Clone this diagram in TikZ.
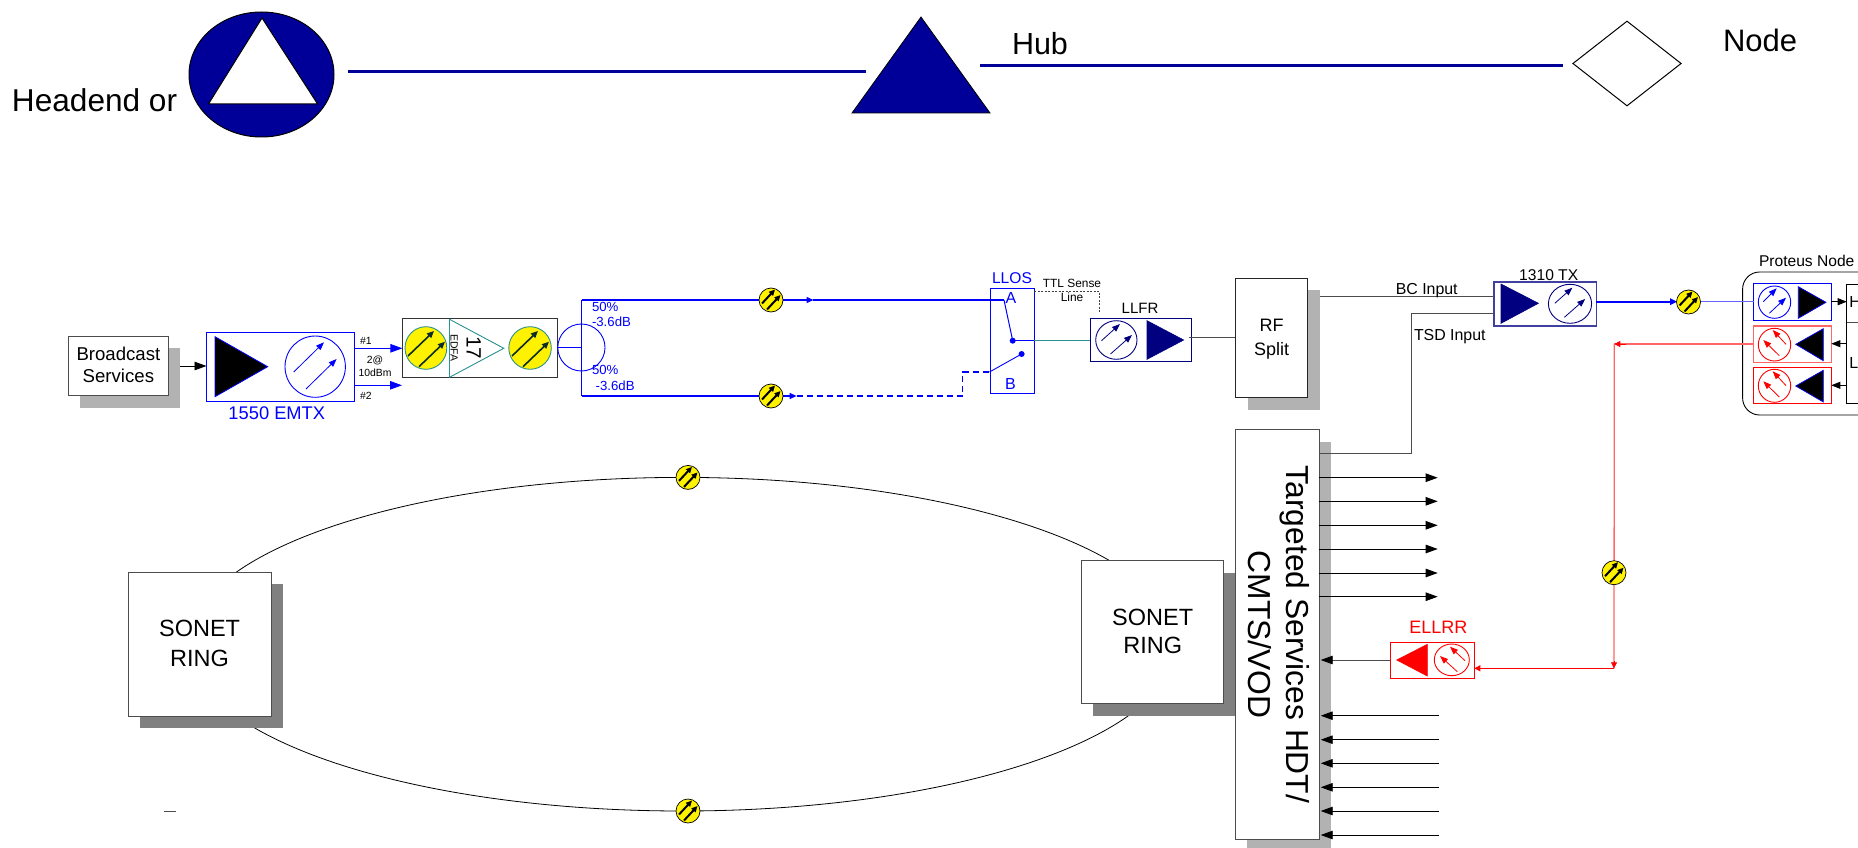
\documentclass[tikz,border=0pt]{standalone}
\usepackage{fontspec}
\setmainfont{Liberation Sans}
\usetikzlibrary{arrows.meta,shapes.geometric,calc}
\definecolor{hubnavy}{HTML}{000099}
\definecolor{optnavy}{HTML}{000080}
\definecolor{tealc}{HTML}{2A9090}
\definecolor{lred}{HTML}{FF6666}
\definecolor{lblue}{HTML}{6666FF}
\definecolor{lineg}{HTML}{4D4D4D}
\definecolor{shadowl}{HTML}{B2B2B2}
\definecolor{shadowd}{HTML}{808080}
\tikzset{
 fs/.style={font=\fontsize{#1}{#1}\selectfont},
 lbl/.style={inner sep=0pt,outer sep=0pt,anchor=base},
 lblw/.style={inner sep=0pt,outer sep=0pt,anchor=base west},
 wirew/.style={line width=0.9pt},
 bigtip/.style={-{Triangle[length=12pt,width=8.5pt]}},
 bigtipk/.style={-{Triangle[length=12pt,width=8.5pt,color=black]}},
 midtip/.style={-{Triangle[length=9pt,width=7pt]}},
 smalltip/.style={-{Triangle[length=7pt,width=6pt]}},
 oarrow/.style={line width=0.8pt,-{Triangle[length=8pt,width=6pt]}},
 ycross/.style={shape=ellipse,draw=black,fill=yellow,line width=0.7pt,minimum width=24pt,minimum height=24pt,inner sep=0pt,outer sep=0pt},
 opticc/.style={shape=ellipse,line width=0.9pt,inner sep=0pt,outer sep=0pt},
 sqbox/.style={shape=rectangle,inner sep=0pt,outer sep=0pt,line width=1pt,fill=white},
}
% rectangle node from corners
\newcommand{\pbox}[6]{\node[sqbox,#6,minimum width={(#4-#2)*1pt},minimum height={(#5-#3)*1pt}] (#1) at ({(#2+#4)/2},{(#3+#5)/2}) {};}
% ellipse node from corners
\newcommand{\pell}[6]{\node[opticc,#6,minimum width={(#4-#2)*1pt},minimum height={(#5-#3)*1pt}] (#1) at ({(#2+#4)/2},{(#3+#5)/2}) {};}
% yellow crossing
\newcommand{\yc}[3]{\node[ycross] (#1) at (#2,#3) {};
 \draw[line width=2pt,black,-{Triangle[length=6pt,width=5.5pt]}] ($(#2,#3)+(-9,3.5)$) -- ($(#2,#3)+(4,-10.5)$);
 \draw[line width=2pt,black,-{Triangle[length=6pt,width=5.5pt]}] ($(#2,#3)+(-4,9.5)$) -- ($(#2,#3)+(9.5,-5)$);}
\begin{document}
\begin{tikzpicture}[x=1pt,y=-1pt]
\useasboundingbox (0,0) rectangle (1858,848);

% ---------- legend ----------
\node[lblw,fs=31.6] (headend) at (12,112) {Headend or};
\pell{hecircle}{189}{12}{334}{137}{draw=black,fill=hubnavy,line width=1pt}
\draw[fill=white,draw=black,line width=1pt] (262,18) -- (317.6,104) -- (208.5,104) -- cycle;
\coordinate (la) at (348,72); \coordinate (lb) at (866,72);
\draw[hubnavy,line width=3pt] (la) -- (lb);
\draw[fill=hubnavy,draw=black,line width=0.8pt] (921,17) -- (990,113) -- (852,113) -- cycle;
\coordinate (lc) at (980,66); \coordinate (ld) at (1563,66);
\draw[hubnavy,line width=3pt] (lc) -- (ld);
\node[lblw,fs=30.5] (hub) at (1012,55) {Hub};
\node[shape=diamond,draw=black,fill=white,line width=1pt,inner sep=0pt,minimum width=108.5pt,minimum height=85pt] (nodesym) at (1627,63.5) {};
\node[lblw,fs=31] (nodelbl) at (1723,51.7) {Node};

% ---------- shadows ----------
\fill[shadowl] (80,348) rectangle (180,407.7);
\fill[shadowl] (1248,290) rectangle (1320,410);
\fill[shadowl] (1247,442) rectangle (1331,847.7);

% ---------- SONET ring ----------
\coordinate (ringc) at (682,644.2);
\draw[black,line width=0.8pt] (ringc) ellipse [x radius=494, y radius=166.8];
\fill[shadowd] (140,584) rectangle (283,727.7);
\fill[shadowd] (1093,572.7) rectangle (1235.7,716);
\yc{ringtop}{688}{477.4}
\yc{ringbot}{688}{811}
\pbox{sonetl}{128.5}{572.7}{271.6}{716}{draw=lineg}
\pbox{sonetr}{1081}{560.7}{1223.7}{703.7}{draw=lineg}
\node[lbl,fs=23.5] (sl1) at (199.6,636.7) {SONET};
\node[lbl,fs=23.5] (sl2) at (199.6,666) {RING};
\node[lbl,fs=23.5] (sr1) at (1152.7,625.7) {SONET};
\node[lbl,fs=23.5] (sr2) at (1152.7,653.3) {RING};
\coordinate (dasha) at (163.8,811); \coordinate (dashb) at (176.3,811);
\draw[lineg,line width=0.9pt] (dasha) -- (dashb);

% ---------- broadcast ----------
\pbox{bcast}{68.7}{336}{168}{395.7}{draw=lineg}
\node[lbl,fs=18.6] (bc1) at (118.4,360) {Broadcast};
\node[lbl,fs=18.6] (bc2) at (118.4,382.7) {Services};

% ---------- 1550 EMTX ----------
\pbox{emtx}{206.5}{332}{354}{401.7}{draw=blue}
\draw[fill=black,draw=blue,line width=0.8pt] (215,336.7) -- (267.7,366.7) -- (215,396.7) -- cycle;
\pell{emtxdet}{285}{336}{345.4}{397.3}{draw=blue}
\draw[oarrow,blue] (293.7,372) -- (324,342.3);
\draw[oarrow,blue] (306,389) -- (336.6,359);
\node[lbl,fs=18.3,blue] (emtxl) at (276.8,419) {1550 EMTX};
\draw[wirew,black,bigtip] (180,366) -- (emtx.west |- 0,366);

% ---------- EDFA ----------
\pbox{edfa}{402.4}{318.7}{557}{377.3}{draw=black!80}
\pell{edfal}{405}{326.7}{446.8}{369.3}{draw=tealc,fill=yellow}
\pell{edfar}{508.8}{326.7}{551.3}{369.3}{draw=tealc,fill=yellow}
\draw[line width=1.6pt,black!70!tealc,-{Triangle[length=7pt,width=6pt]}] (408,356) -- (434,331);
\draw[line width=1.6pt,black!70!tealc,-{Triangle[length=7pt,width=6pt]}] (419,366.7) -- (445,341.7);
\draw[line width=1.6pt,black!70!tealc,-{Triangle[length=7pt,width=6pt]}] (512,356) -- (538,331);
\draw[line width=1.6pt,black!70!tealc,-{Triangle[length=7pt,width=6pt]}] (523,366.7) -- (549,341.7);
\draw[tealc,line width=0.9pt] (449.5,319.3) -- (503.8,348.3) -- (449.5,377.3) -- cycle;
\node[lbl,fs=10.4,rotate=-90] (edfat) at (450.5,347.7) {EDFA};
\node[lbl,fs=20.7,rotate=-90] (edfan) at (466.5,348) {17};
\draw[wirew,blue,bigtip] (emtx.east |- 0,348.3) -- (edfa.west |- 0,348.3);
\draw[wirew,blue,bigtip] (emtx.east |- 0,385.3) -- (402,385.3);
\node[lblw,fs=10.4] (n1) at (360,344) {\#1};
\node[lblw,fs=10.4] (n2) at (360,399) {\#2};
\node[lbl,fs=10.4] (n3) at (375,363) {2@};
\node[lbl,fs=10.4] (n4) at (375,376) {10dBm};

% ---------- splitter ----------
\pell{split}{557.8}{324}{605}{371}{draw=blue}
\coordinate (spt) at (581.5,300);
\coordinate (spb) at (581.5,396);
\draw[blue,line width=0.9pt] (edfa.east |- 0,347.5) -- (581.5,347.5);
\draw[blue,line width=1pt] (spt) -- (spb);
\node[lblw,fs=13.2,blue] (s1) at (592,311) {50\%};
\node[lblw,fs=13.2,blue] (s2) at (592,326.7) {-3.6dB};
\node[lblw,fs=13.2,blue] (s3) at (592,374) {50\%};
\node[lblw,fs=13.2,blue] (s4) at (595.7,390) {-3.6dB};

% ---------- LLOS ----------
\pbox{llos}{990.8}{288.3}{1034}{393.3}{draw=blue}
\node[lbl,fs=15.6,blue] (lloslbl) at (1012,283) {LLOS};
\node[lbl,fs=16,blue] (swA) at (1011,303) {A};
\node[lbl,fs=16,blue] (swB) at (1010.5,389) {B};
\coordinate (swtop) at (1004,300);
\node[circle,fill=blue,inner sep=0pt,minimum size=6pt] (dot1) at (1012.7,340.7) {};
\node[circle,fill=blue,inner sep=0pt,minimum size=6pt] (dot2) at (1021.6,354) {};
\coordinate (swlow) at (989.5,372);
\coordinate (dashturn) at (962.7,396);
\coordinate (dashup) at (962.7,372);
\yc{ytop}{771}{300}
\yc{ybot}{771}{396}
\draw[blue,line width=1.3pt] (spt) -- (ytop.west);
\draw[blue,line width=1.3pt,smalltip] (ytop.east) -- (813.5,300);
\draw[blue,line width=1.3pt] (813,300) -- (swtop);
\draw[blue,line width=1pt] (swtop) -- (dot1.center);
\draw[blue,line width=1.3pt] (spb) -- (ybot.west);
\draw[blue,line width=1.3pt,smalltip] (ybot.east) -- (796.6,396);
\draw[blue,line width=1.3pt,dash pattern=on 6pt off 4pt] (796.6,396) -- (dashturn) -- (dashup) -- (swlow);
\draw[blue,line width=0.9pt] (swlow) -- (dot2.center);
\draw[blue,line width=1.2pt] (dot1.center) -- (llos.east |- dot1);

% ---------- LLFR ----------
\pbox{llfr}{1090}{318.3}{1191}{361.7}{draw=optnavy}
\pell{llfrdet}{1095.7}{320.7}{1137}{359.3}{draw=optnavy}
\draw[fill=optnavy,draw=optnavy,line width=0.6pt] (1147,320.7) -- (1183.7,340) -- (1147,359.3) -- cycle;
\draw[oarrow,optnavy] (1101.5,340.7) -- (1120,324);
\draw[oarrow,optnavy] (1110.5,354) -- (1132,335);
\node[lbl,fs=15] (llfrlbl) at (1140,313.3) {LLFR};
\draw[tealc,line width=1.2pt] (llos.east |- dot1) -- (llfr.west |- dot1);
\draw[black!75,line width=0.8pt,dash pattern=on 2pt off 1.5pt] (llos.east |- 0,291.3) -- (1099,291.3) -- (1099,311.7);
\node[lbl,fs=11.9] (ttl1) at (1072,287.7) {TTL Sense};
\node[lbl,fs=11.9] (ttl2) at (1072,301.7) {Line};

% ---------- RF split ----------
\pbox{rfsplit}{1235}{278.3}{1307.7}{397.3}{draw=black!85}
\node[lbl,fs=18] (rf1) at (1271.6,331.7) {RF};
\node[lbl,fs=18] (rf2) at (1271.6,355) {Split};
\draw[lineg,wirew] (1188.6,337.7) -- (rfsplit.west |- 0,337.7);

% ---------- 1310 TX ----------
\pbox{tx}{1494}{282}{1596.4}{326}{draw=optnavy!75!white,line width=1.2pt}
\draw[fill=optnavy,draw=optnavy,line width=0.6pt] (1501,284) -- (1538.4,303.3) -- (1501,323.3) -- cycle;
\pell{txdet}{1548.4}{284.3}{1591.6}{323.3}{draw=optnavy}
\draw[oarrow,optnavy] (1554.8,303.3) -- (1572.4,287.7);
\draw[oarrow,optnavy] (1564.4,317.3) -- (1585.2,299);
\node[lbl,fs=15.6] (txlbl) at (1548.7,280) {1310 TX};
\draw[lineg,wirew] (1320,296) -- (tx.west |- 0,296);
\node[lblw,fs=15.9] (bcin) at (1395.8,294) {BC Input};

% ---------- Targeted services ----------
\pbox{ts}{1235.7}{429.7}{1319.3}{839.3}{draw=lineg}
\node[lbl,fs=31.8,rotate=-90] (ts1) at (1286,634.5) {Targeted Services HDT/};
\node[lbl,fs=31.8,rotate=-90] (ts2) at (1248.3,634.5) {CMTS/VOD};
\draw[lineg,wirew] (tx.west |- 0,313.7) -- (1411,313.7) -- (1411,453.7) -- (ts.east |- 0,453.7);
\node[lblw,fs=15.9] (tsdin) at (1414,340) {TSD Input};
\foreach \yy in {477.7,501.3,525.3,549,573,596.7}
  \draw[black,wirew,bigtip] (ts.east |- 0,\yy) -- (1437.7,\yy);
\foreach \yy in {715.7,739.7,763.3,787.3,811,835}
  \draw[black,wirew,bigtip] (1438.7,\yy) -- (1320.7,\yy);

% ---------- ELLRR ----------
\pbox{ellrr}{1390.3}{642}{1474.3}{678.3}{draw=red}
\draw[fill=red,draw=red,line width=0.6pt] (1396.7,660) -- (1427.3,644.3) -- (1427.3,676) -- cycle;
\pell{ellrrdet}{1434.3}{644}{1469.3}{675.7}{draw=red}
\draw[oarrow,red] (1465,660.7) -- (1450,646.7);
\draw[oarrow,red] (1457.3,671.7) -- (1440,656);
\node[lbl,fs=18,red] (ellrrl) at (1438.3,633.7) {ELLRR};
\draw[lineg,wirew,bigtipk] (ellrr.west |- 0,660) -- (1320.7,660);

% ---------- Proteus node ----------
\draw[black,line width=0.9pt,rounded corners=17pt] (1858,272) -- (1742.6,272) -- (1742.6,415) -- (1858,415);
\node[lblw,fs=15.6] (protlbl) at (1759,266) {Proteus Node};
\draw[black,line width=0.9pt] (1858,284.3) -- (1846.7,284.3) -- (1846.7,403.7) -- (1858,403.7);
\coordinate (hlrg) at (1846.7,322.3);
\draw[lineg,line width=0.8pt] (hlrg) -- (1858,322.3);
\node[lblw,fs=16] (hlet) at (1849.3,307.3) {H};
\node[lblw,fs=16] (llet) at (1849.3,368.3) {L};
\pbox{pblue}{1753.7}{283.3}{1831.3}{320.3}{draw=blue}
\pell{pbdet}{1758.3}{286}{1790.7}{318.3}{draw=blue}
\draw[fill=black,draw=blue,line width=0.7pt] (1798.3,286.7) -- (1826,302.3) -- (1798.3,318.3) -- cycle;
\draw[oarrow,blue] (1763.3,301.7) -- (1776.7,288.3);
\draw[oarrow,blue] (1769.3,313.3) -- (1786,297.7);
\pbox{pred1}{1753.7}{326}{1831.3}{362.3}{draw=lred,line width=1.2pt}
\pell{pr1det}{1758.3}{328.3}{1790.7}{361}{draw=red}
\draw[fill=black,draw=blue,line width=0.7pt] (1795.7,344.3) -- (1823.3,328.7) -- (1823.3,360.7) -- cycle;
\draw[oarrow,red] (1779.3,355.7) -- (1763.3,340);
\draw[oarrow,red] (1786,344.3) -- (1772.7,330);
\pbox{pred2}{1753.7}{367.3}{1831.3}{403.7}{draw=red}
\pell{pr2det}{1758.3}{369.3}{1790.7}{402.3}{draw=red}
\draw[fill=black,draw=blue,line width=0.7pt] (1795.7,386) -- (1823.3,370.3) -- (1823.3,402) -- cycle;
\draw[oarrow,red] (1779.3,397) -- (1763.3,381.3);
\draw[oarrow,red] (1786,385.6) -- (1772.7,371.3);
\draw[black,wirew,midtip] (pblue.east |- 0,301.7) -- (hlrg |- 0,301.7);
\draw[black,wirew,midtip] (hlrg |- 0,343.7) -- (pred1.east |- 0,343.7);
\draw[black,wirew,midtip] (hlrg |- 0,385.3) -- (pred2.east |- 0,385.3);

% ---------- forward / return optical path ----------
\draw[lblue,line width=1.1pt] (1700,301.7) -- (pblue.west |- 0,301.7);
\draw[blue,line width=1.6pt,-{Triangle[length=7pt,width=6.5pt]}] (tx.east |- 0,301.7) -- (1677,301.7);
\yc{yfwd}{1688.5}{302}
\coordinate (retturn) at (1614.3,344);
\coordinate (retlow) at (1614,668.3);
\draw[lred,line width=1.2pt] (pred1.west |- 0,344) -- (retturn);
\draw[red,line width=0.8pt,-{Triangle[length=6pt,width=6pt]}] (1626,344) -- (retturn);
\draw[lred,line width=1.3pt] (retturn) -- (retlow);
\yc{yret}{1614}{572.7}
\draw[red,line width=0.8pt,-{Triangle[length=6pt,width=6pt]}] (1614,661) -- (retlow);
\draw[red,line width=1pt,-{Triangle[length=6pt,width=6pt]}] (retlow) -- (ellrr.east |- retlow);
\end{tikzpicture}
\end{document}
